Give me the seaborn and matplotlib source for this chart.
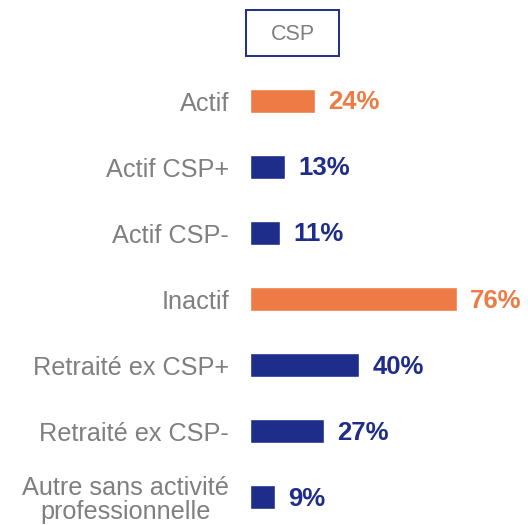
import matplotlib
matplotlib.use("Agg")
import matplotlib.pyplot as plt
from matplotlib.patches import Rectangle
import seaborn as sns
import pandas as pd

categories = ["Actif", "Actif CSP+", "Actif CSP-", "Inactif",
              "Retraité ex CSP+", "Retraité ex CSP-",
              "Autre sans activité\nprofessionnelle"]
values = [24, 13, 11, 76, 40, 27, 9]
groups = ["main", "sub", "sub", "main", "sub", "sub", "sub"]
title = "CSP"

ORANGE = "#EE7B45"
NAVY = "#1F2D8A"
GRAY = "#7F7F7F"
palette = {"main": ORANGE, "sub": NAVY}

df = pd.DataFrame({"cat": categories, "val": values, "grp": groups})

sns.set_theme(style="white")
plt.rcParams["font.family"] = ["Liberation Sans", "DejaVu Sans"]

W, H = 528, 525
fig = plt.figure(figsize=(W / 100, H / 100), dpi=100)
ax = fig.add_axes([250 / W, 0, 1 - 250 / W, 1 - 68 / H])

sns.barplot(data=df, y="cat", x="val", hue="grp", palette=palette,
            orient="h", width=0.36, dodge=False, legend=False,
            saturation=1, ax=ax)

ax.set_xlim(0, 102)
ax.set_ylim(6.42, -0.5)
ax.set_xlabel("")
ax.set_ylabel("")
ax.set_xticks([])
for s in ax.spines.values():
    s.set_visible(False)
ax.tick_params(axis="y", length=0, pad=15, labelsize=18.2, labelcolor=GRAY)
for lbl in ax.get_yticklabels():
    lbl.set_multialignment("center")
    lbl.set_linespacing(1.0)

for cont in ax.containers:
    for bar in cont:
        w = bar.get_width()
        if w != w or w == 0:
            continue
        y = bar.get_y() + bar.get_height() / 2
        col = bar.get_facecolor()
        ax.annotate(f"{int(round(w))}%", xy=(w, y), xytext=(9.5, -1),
                    textcoords="offset points", va="center", ha="left",
                    fontsize=18.5, fontweight="bold", color=col)

fig.patches.append(Rectangle((246 / W, 1 - 56 / H), 93 / W, 46 / H,
                             transform=fig.transFigure, fill=False,
                             ec=NAVY, lw=1.4))
fig.text(292.5 / W, 1 - 34 / H, title, ha="center", va="center",
         fontsize=15.5, color=GRAY)

fig.savefig("out.png", dpi=100)
